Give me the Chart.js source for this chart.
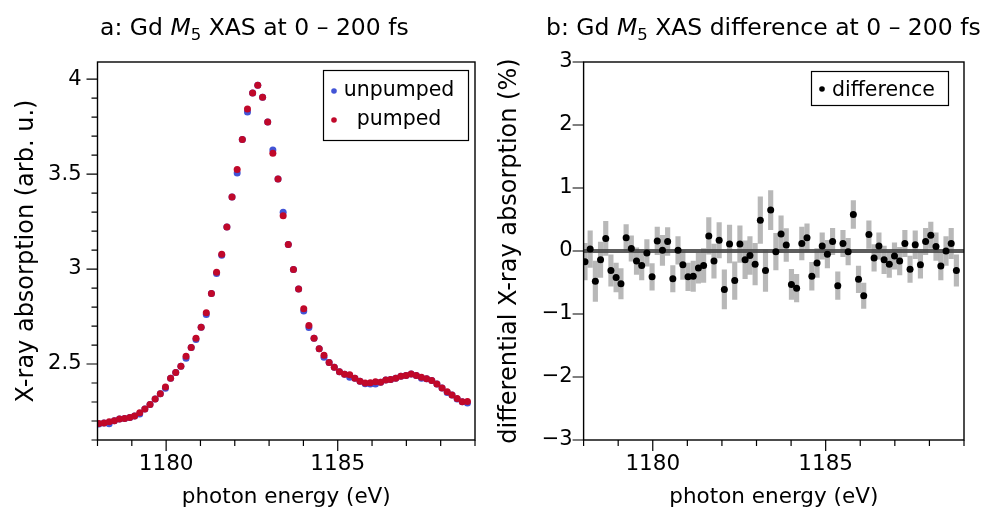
<!DOCTYPE html>
<html><head><meta charset="utf-8">
<script src="https://cdn.jsdelivr.net/npm/chart.js@4.4.0/dist/chart.umd.min.js"></script>
<style>
html,body{margin:0;padding:0;background:#fff;}
#wrap{position:relative;width:981px;height:511px;overflow:hidden;}
#a{position:absolute;left:0;top:0;}
#b{position:absolute;left:490px;top:0;}
</style></head><body>
<div id="wrap"><canvas id="a" width="490" height="511"></canvas><canvas id="b" width="491" height="511"></canvas></div>
<script>
// ---------- data ----------
const energy = [1178.04,1178.19,1178.34,1178.49,1178.64,1178.79,1178.94,1179.08,1179.23,1179.38,
1179.53,1179.68,1179.83,1179.98,1180.13,1180.28,1180.43,1180.58,1180.73,1180.87,
1181.02,1181.17,1181.32,1181.47,1181.62,1181.77,1181.92,1182.07,1182.22,1182.37,
1182.52,1182.67,1182.81,1182.96,1183.11,1183.26,1183.41,1183.56,1183.71,1183.86,
1184.01,1184.16,1184.31,1184.46,1184.60,1184.75,1184.90,1185.05,1185.20,1185.35,
1185.50,1185.65,1185.80,1185.95,1186.10,1186.25,1186.40,1186.54,1186.69,1186.84,
1186.99,1187.14,1187.29,1187.44,1187.59,1187.74,1187.89,1188.04,1188.19,1188.33,
1188.48,1188.63,1188.78];
const pumped = [2.187,2.189,2.196,2.201,2.210,2.213,2.219,2.226,2.244,2.263,
2.287,2.316,2.344,2.379,2.425,2.455,2.488,2.541,2.587,2.636,
2.693,2.770,2.871,2.983,3.078,3.221,3.379,3.524,3.682,3.843,
3.927,3.967,3.904,3.774,3.610,3.474,3.281,3.129,2.997,2.895,
2.791,2.703,2.636,2.580,2.546,2.508,2.483,2.459,2.446,2.443,
2.425,2.409,2.400,2.402,2.407,2.404,2.416,2.419,2.425,2.435,
2.439,2.448,2.439,2.430,2.422,2.413,2.395,2.374,2.354,2.337,
2.319,2.302,2.303];
const unpumped = [2.184,2.189,2.186,2.201,2.210,2.213,2.219,2.226,2.237,2.263,
2.287,2.316,2.344,2.372,2.425,2.455,2.488,2.530,2.587,2.629,
2.693,2.761,2.871,2.976,3.073,3.221,3.379,3.505,3.682,3.827,
3.927,3.967,3.904,3.774,3.627,3.474,3.299,3.129,2.997,2.895,
2.779,2.692,2.636,2.580,2.535,2.508,2.483,2.459,2.446,2.431,
2.425,2.409,2.396,2.395,2.395,2.404,2.416,2.419,2.425,2.435,
2.439,2.448,2.439,2.425,2.422,2.413,2.395,2.374,2.350,2.337,
2.316,2.302,2.295];
const difference = [-0.17,0.03,-0.48,-0.14,0.20,-0.31,-0.42,-0.52,0.21,0.04,
-0.16,-0.23,-0.03,-0.41,0.16,0.01,0.15,-0.44,0.01,-0.22,
-0.41,-0.40,-0.27,-0.23,0.24,-0.16,0.17,-0.61,0.11,-0.47,
0.11,-0.14,-0.07,-0.21,0.49,-0.31,0.65,-0.01,0.27,0.095,
-0.53,-0.59,0.12,0.21,-0.40,-0.19,0.08,-0.05,0.15,-0.55,
0.12,-0.01,0.58,-0.45,-0.71,0.26,-0.11,0.08,-0.14,-0.21,
-0.08,-0.16,0.12,-0.29,0.10,-0.22,0.15,0.25,0.07,-0.24,
0.00,0.12,-0.31];
const diffError = [0.29,0.29,0.32,0.28,0.27,0.25,0.23,0.24,0.21,0.20,
0.21,0.23,0.21,0.21,0.22,0.24,0.22,0.21,0.22,0.23,
0.22,0.24,0.24,0.27,0.29,0.27,0.28,0.31,0.30,0.30,
0.29,0.30,0.30,0.33,0.37,0.33,0.31,0.29,0.29,0.26,
0.24,0.22,0.26,0.22,0.22,0.23,0.21,0.22,0.21,0.22,
0.21,0.21,0.22,0.21,0.20,0.22,0.21,0.21,0.22,0.21,
0.21,0.22,0.21,0.21,0.22,0.21,0.21,0.21,0.22,0.22,
0.23,0.24,0.25];
const xRange = [1178, 1189];
const xMajorTicks = [1180, 1185];
const xMinorTicks = [1178,1179,1181,1182,1183,1184,1186,1187,1188,1189];
const yRangeA = [2.1, 4.09];
const yMajorTicksA = [2.5, 3, 3.5, 4];
const yMinorTicksA = [2.1,2.2,2.3,2.4,2.6,2.7,2.8,2.9,3.1,3.2,3.3,3.4,3.6,3.7,3.8,3.9,4.0];
const yRangeB = [-3, 3];
const yMajorTicksB = [-3,-2,-1,0,1,2,3];

// ---------- styling / helpers ----------
const FONT = "'DejaVu Sans', 'Noto Sans', sans-serif";
Chart.defaults.font.family = FONT;
Chart.defaults.color = '#000';
const BLUE = 'rgb(66,84,214)';
const RED = 'rgb(192,8,42)';

function drawRich(ctx, x, y, parts) {
  let cx = x;
  for (const p of parts) {
    ctx.font = p.f;
    ctx.fillText(p.t, cx, y + (p.dy || 0));
    cx += ctx.measureText(p.t).width;
  }
}

const deco = {
  id: 'deco',
  afterDraw(chart, args, o) {
    const {ctx, chartArea: a, scales: {x, y}} = chart;
    ctx.save();
    // frame
    ctx.strokeStyle = '#000';
    ctx.lineWidth = 1.4;
    ctx.strokeRect(a.left, a.top, a.right - a.left, a.bottom - a.top);
    // ticks
    ctx.lineWidth = 1.2;
    ctx.beginPath();
    const hx = (v, len) => { const p = x.getPixelForValue(v); ctx.moveTo(p, a.bottom); ctx.lineTo(p, a.bottom + len); };
    const vy = (v, len) => { const p = y.getPixelForValue(v); ctx.moveTo(a.left, p); ctx.lineTo(a.left - len, p); };
    o.xMajor.forEach(v => hx(v, 11));
    o.xMinor.forEach(v => hx(v, 6));
    o.yMajor.forEach(v => vy(v, 11));
    (o.yMinor || []).forEach(v => vy(v, 6));
    ctx.stroke();
    // title
    ctx.fillStyle = '#000';
    ctx.textBaseline = 'alphabetic';
    ctx.textAlign = 'left';
    drawRich(ctx, o.titleX, 35, o.title);
    // legend
    const L = o.legend;
    ctx.fillStyle = '#fff';
    ctx.fillRect(L.x, L.y, L.w, L.h);
    ctx.strokeStyle = '#000';
    ctx.lineWidth = 1.2;
    ctx.strokeRect(L.x, L.y, L.w, L.h);
    ctx.font = "20.5px " + FONT;
    L.items.forEach(it => {
      ctx.fillStyle = it.c;
      ctx.beginPath();
      ctx.arc(it.dx, it.dy, 2.8, 0, Math.PI * 2);
      ctx.fill();
      ctx.fillStyle = '#000';
      ctx.textAlign = it.align;
      ctx.fillText(it.t, it.tx, it.ty);
    });
    ctx.restore();
  }
};

const titleParts = (pre, post) => [
  {t: pre, f: "23.5px " + FONT},
  {t: 'M', f: "italic 23.5px " + FONT},
  {t: '5', f: "16.5px " + FONT, dy: 5},
  {t: post, f: "23.5px " + FONT}
];

function baseScales(yr, yMajor, yPad, yTitle, yTitlePad, yFmt, yWidth) {
  return {
    x: {
      type: 'linear', min: xRange[0], max: xRange[1], offset: false,
      grid: {display: false, drawTicks: false, offset: false},
      border: {display: false},
      afterBuildTicks: s => { s.ticks = xMajorTicks.map(v => ({value: v})); },
      afterFit: s => { s.height = 71; },
      ticks: {font: {size: 21.5}, padding: 12, maxRotation: 0, autoSkip: false, callback: v => String(v)},
      title: {display: true, text: 'photon energy (eV)', font: {size: 21.5}, padding: {top: 0, bottom: 1}}
    },
    y: {
      type: 'linear', min: yr[0], max: yr[1],
      grid: {display: false, drawTicks: false},
      border: {display: false},
      afterBuildTicks: s => { s.ticks = yMajor.map(v => ({value: v})); },
      afterFit: s => { s.width = yWidth; },
      ticks: {font: {size: 21}, padding: yPad, autoSkip: false, callback: yFmt},
      title: {display: true, text: yTitle, font: {size: 24}, padding: {top: yTitlePad, bottom: 0}}
    }
  };
}

// ---------- panel a ----------
new Chart(document.getElementById('a'), {
  type: 'scatter',
  data: {
    datasets: [
      {label: 'pumped', data: energy.map((e, i) => ({x: e, y: pumped[i]})), pointRadius: 3.5, pointBorderWidth: 0, backgroundColor: RED, borderColor: RED, order: 0},
      {label: 'unpumped', data: energy.map((e, i) => ({x: e, y: unpumped[i]})), pointRadius: 3.5, pointBorderWidth: 0, backgroundColor: BLUE, borderColor: BLUE, order: 1}
    ]
  },
  options: {
    responsive: false, animation: false,
    layout: {padding: {left: 0, top: 62, right: 15, bottom: 0}},
    scales: baseScales(yRangeA, yMajorTicksA, 16, 'X-ray absorption (arb. u.)', 12.6, v => String(v), 97.5),
    plugins: {
      legend: {display: false}, tooltip: {enabled: false},
      deco: {
        xMajor: xMajorTicks, xMinor: xMinorTicks, yMajor: yMajorTicksA, yMinor: yMinorTicksA,
        titleX: 100, title: titleParts('a: Gd ', ' XAS at 0 \u2013 200 fs'),
        legend: {x: 323.5, y: 70.5, w: 145, h: 70, items: [
          {t: 'unpumped', c: BLUE, dx: 334, dy: 91, tx: 399, ty: 96, align: 'center'},
          {t: 'pumped', c: RED, dx: 334, dy: 120, tx: 399, ty: 125, align: 'center'}
        ]}
      }
    }
  },
  plugins: [deco]
});

// ---------- panel b ----------
new Chart(document.getElementById('b'), {
  type: 'scatter',
  data: {
    datasets: [
      {type: 'scatter', label: 'difference', data: energy.map((e, i) => ({x: e, y: difference[i]})), pointRadius: 3.5, pointBorderWidth: 0, backgroundColor: '#000', borderColor: '#000', order: 0},
      {type: 'line', label: 'zero', data: [{x: xRange[0], y: 0}, {x: xRange[1], y: 0}], borderColor: 'rgba(75,75,75,0.9)', borderWidth: 3.8, pointRadius: 0, order: 1},
      {type: 'bar', label: 'error', data: energy.map((e, i) => ({x: e, y: [difference[i] - diffError[i], difference[i] + diffError[i]]})), backgroundColor: 'rgba(150,150,150,0.68)', barThickness: 4.5, borderWidth: 0, order: 2}
    ]
  },
  options: {
    responsive: false, animation: false,
    layout: {padding: {left: 0, top: 62, right: 17, bottom: 0}},
    scales: baseScales(yRangeB, yMajorTicksB, 11, 'differential X-ray absorption (%)', 5.6, v => (v < 0 ? '\u2212' + Math.abs(v) : String(v)), 93.6),
    plugins: {
      legend: {display: false}, tooltip: {enabled: false},
      deco: {
        xMajor: xMajorTicks, xMinor: xMinorTicks, yMajor: yMajorTicksB, yMinor: [],
        titleX: 56, title: titleParts('b: Gd ', ' XAS difference at 0 \u2013 200 fs'),
        legend: {x: 321.5, y: 71.5, w: 137, h: 34, items: [
          {t: 'difference', c: '#000', dx: 332, dy: 89, tx: 342, ty: 96, align: 'left'}
        ]}
      }
    }
  },
  plugins: [deco]
});
</script>
</body></html>
